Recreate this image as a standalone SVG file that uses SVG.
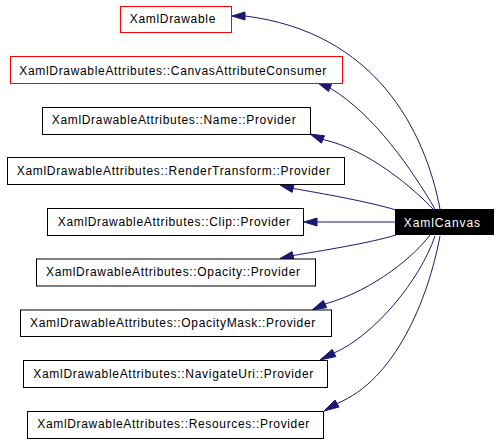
<svg xmlns="http://www.w3.org/2000/svg" width="499" height="443" viewBox="0 0 499 443">
<style>
.n rect{fill:#fff;stroke:#000;stroke-width:1}
.n.r rect{stroke:#f00}
.n text{font-family:"Liberation Sans",Arial,sans-serif;font-size:12px;fill:#000}
#XamlCanvas rect{fill:#000;stroke:#000}
#XamlCanvas text{fill:#fff}
.e path{fill:none;stroke:#191970;stroke-width:1}
.e polygon{fill:#191970;stroke:#191970;stroke-width:1}
</style>
<rect width="499" height="443" fill="#fff"/>
<g id="edges" class="e">
<path d="M440,209 C425,130 375,32 245,16"/>
<polygon points="232,16 245,12 245,20"/>
<path d="M435,209 C412,170 375,115 330,88"/>
<polygon points="318,83 331.5,84.5 328.5,91.5"/>
<path d="M433,209 C415,190 370,150 323,139.5"/>
<polygon points="310,134 324.5,135.8 321.4,143.2"/>
<path d="M396,210 C370,202 320,193 293,188.5"/>
<polygon points="280,185 294,184.7 292,192.4"/>
<path d="M395,222 L317,222"/>
<polygon points="304,222 317,218 317,226"/>
<path d="M396,235 C370,243 320,251 293,255.5"/>
<polygon points="280,258.5 292.1,251.6 293.9,259.4"/>
<path d="M430,235 C415,255 375,290 325,304"/>
<polygon points="312,310 323.3,300.4 326.7,307.6"/>
<path d="M435,236 C420,280 375,335 334,353"/>
<polygon points="320,360 332.2,349.4 335.8,356.6"/>
<path d="M440,236 C428,300 395,380 337,403.5"/>
<polygon points="324,411 335,400 339,407"/>
</g>
<g id="XamlDrawable" class="n r"><rect x="120.5" y="6.5" width="111" height="26"/><text x="129.7" y="23" textLength="85.7" lengthAdjust="spacing">XamlDrawable</text></g>
<g id="CanvasAttributeConsumer" class="n r"><rect x="10.5" y="56.5" width="332" height="27"/><text x="19.3" y="74.5" textLength="307" lengthAdjust="spacing">XamlDrawableAttributes::CanvasAttributeConsumer</text></g>
<g id="NameProvider" class="n"><rect x="42.5" y="107.5" width="268" height="27"/><text x="51.7" y="124" textLength="244" lengthAdjust="spacing">XamlDrawableAttributes::Name::Provider</text></g>
<g id="RenderTransformProvider" class="n"><rect x="7.5" y="157.5" width="337" height="27"/><text x="16.7" y="175" textLength="313.3" lengthAdjust="spacing">XamlDrawableAttributes::RenderTransform::Provider</text></g>
<g id="ClipProvider" class="n"><rect x="47.5" y="208.5" width="256" height="27"/><text x="57.7" y="226" textLength="232.3" lengthAdjust="spacing">XamlDrawableAttributes::Clip::Provider</text></g>
<g id="OpacityProvider" class="n"><rect x="36.5" y="259" width="279" height="27"/><text x="46" y="276" textLength="254" lengthAdjust="spacing">XamlDrawableAttributes::Opacity::Provider</text></g>
<g id="OpacityMaskProvider" class="n"><rect x="20.5" y="310" width="311" height="26.5"/><text x="30" y="327.3" textLength="285.3" lengthAdjust="spacing">XamlDrawableAttributes::OpacityMask::Provider</text></g>
<g id="NavigateUriProvider" class="n"><rect x="23.5" y="360.5" width="304" height="27"/><text x="33.3" y="378" textLength="280" lengthAdjust="spacing">XamlDrawableAttributes::NavigateUri::Provider</text></g>
<g id="ResourcesProvider" class="n"><rect x="27.5" y="411.5" width="296" height="27"/><text x="37.3" y="428.3" textLength="272" lengthAdjust="spacing">XamlDrawableAttributes::Resources::Provider</text></g>
<g id="XamlCanvas" class="n"><rect x="395.5" y="209.5" width="98" height="25"/><text x="403.7" y="226.5" textLength="76.3" lengthAdjust="spacing">XamlCanvas</text></g>
</svg>
